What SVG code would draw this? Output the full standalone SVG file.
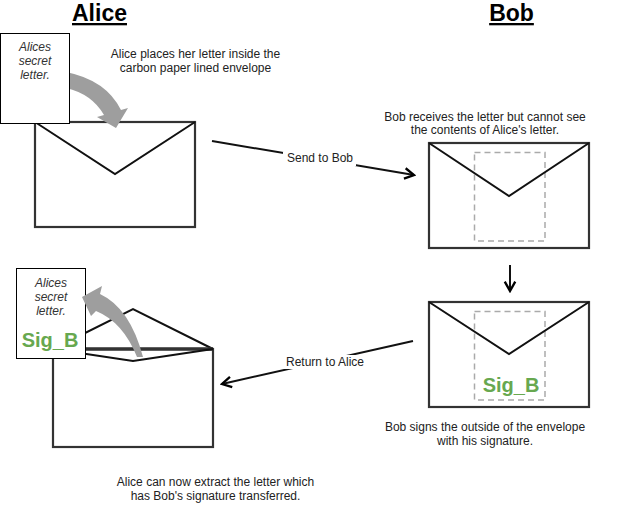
<svg xmlns="http://www.w3.org/2000/svg" width="628" height="523" viewBox="0 0 628 523">
<defs>
<marker id="open" markerUnits="userSpaceOnUse" markerWidth="14" markerHeight="14" viewBox="-1 -1 12 12" refX="9" refY="5" orient="auto">
<path d="M1,0.5 L9,5 L1,9.5" fill="none" stroke="#000" stroke-width="2"/>
</marker>
<style>
.title{font-family:"Liberation Sans",Arial,sans-serif;font-size:23px;font-weight:bold;text-decoration:underline;fill:#000;text-anchor:middle}
.t{font-family:"Liberation Sans",Arial,sans-serif;font-size:12px;fill:#222;text-anchor:middle}
.it{font-family:"Liberation Sans",Arial,sans-serif;font-size:12px;font-style:italic;fill:#333;text-anchor:middle}
.sig{font-family:"Liberation Sans",Arial,sans-serif;font-size:20px;font-weight:bold;fill:#67A84F;text-anchor:middle}
.env{fill:#fff;stroke:#333;stroke-width:2.2}
.flap{fill:none;stroke:#111;stroke-width:2;stroke-linejoin:miter}
.dash{fill:none;stroke:#aaa;stroke-width:1.5;stroke-dasharray:6 4}
.paper{fill:#fff;stroke:#000;stroke-width:1}
.gray{fill:#9E9E9E;stroke:none}
.conn{fill:none;stroke:#111;stroke-width:2}
.lbl{font-family:"Liberation Sans",Arial,sans-serif;font-size:12px;fill:#222;text-anchor:middle}
</style>
</defs>
<rect width="628" height="523" fill="#fff"/>

<g id="titles">
<text class="title" x="99.5" y="21">Alice</text>
<text class="title" x="511.5" y="21">Bob</text>
</g>

<g id="alice-envelope-1">
<rect class="env" x="35" y="122" width="160" height="105"/>
<polyline class="flap" points="35,122 115,174 195,122"/>
</g>
<g id="alice-arrow-in">
<path class="gray" d="M66,72 Q106,80 121,110 L128,108 L116,128 L97,117 L104,115 Q92,94 66,88 Z"/>
</g>
<g id="alice-letter-1">
<rect class="paper" x="0.5" y="33.5" width="69" height="90"/>
<text class="it" x="35" y="51">Alices</text>
<text class="it" x="35" y="65">secret</text>
<text class="it" x="35" y="79">letter.</text>
</g>
<g id="text-alice-places">
<text class="t" x="195.5" y="58">Alice places her letter inside the</text>
<text class="t" x="195.5" y="72">carbon paper lined envelope</text>
</g>

<g id="bob-envelope-1">
<rect class="env" x="429" y="143" width="160" height="105" stroke-width="2.6"/>
<rect class="dash" x="474.5" y="152.5" width="70.5" height="88.5"/>
<polyline class="flap" points="429,143 509,196 589,143"/>
</g>
<g id="text-bob-receives">
<text class="t" x="485" y="121">Bob receives the letter but cannot see</text>
<text class="t" x="485" y="134">the contents of Alice's letter.</text>
</g>

<g id="bob-envelope-2">
<rect class="env" x="429" y="302" width="160" height="105" stroke-width="2.6"/>
<rect class="dash" x="474.5" y="311.5" width="70.5" height="88.5"/>
<polyline class="flap" points="429,302 509,354 589,302"/>
<text class="sig" x="511" y="392">Sig_B</text>
</g>
<g id="text-bob-signs">
<text class="t" x="485" y="431">Bob signs the outside of the envelope</text>
<text class="t" x="485" y="445">with his signature.</text>
</g>

<g id="alice-envelope-2">
<polyline class="flap" points="53,349 133,309 213,349" stroke="#333"/>
<rect class="env" x="53" y="349" width="160" height="98"/>
<line x1="53" y1="349" x2="213" y2="349" stroke="#333" stroke-width="3.5"/>
<polyline class="flap" points="53,349 133,361 213,349" stroke="#333"/>
</g>
<g id="alice-letter-2">
<rect class="paper" x="16.5" y="268.5" width="69" height="90"/>
<text class="it" x="51" y="287">Alices</text>
<text class="it" x="51" y="301">secret</text>
<text class="it" x="51" y="315">letter.</text>
<text class="sig" x="50" y="347">Sig_B</text>
</g>
<g id="alice-arrow-out">
<path class="gray" d="M82,297 L102,286 L100,294 Q130,308 143,357 L137,357 Q123,322 96,311 L91,316 Z"/>
</g>
<g id="text-alice-extract">
<text class="t" x="215.5" y="486">Alice can now extract the letter which</text>
<text class="t" x="215.5" y="500">has Bob's signature transferred.</text>
</g>

<g id="connectors">
<line class="conn" x1="212" y1="141" x2="414" y2="175" marker-end="url(#open)"/>
<rect x="283" y="152" width="73" height="14" fill="#fff"/>
<text class="lbl" x="320" y="162">Send to Bob</text>
<line class="conn" x1="510" y1="265" x2="510" y2="291" marker-end="url(#open)"/>
<line class="conn" x1="413" y1="341" x2="222" y2="384" marker-end="url(#open)"/>
<rect x="284" y="355" width="82" height="14" fill="#fff"/>
<text class="lbl" x="325" y="366">Return to Alice</text>
</g>
</svg>
